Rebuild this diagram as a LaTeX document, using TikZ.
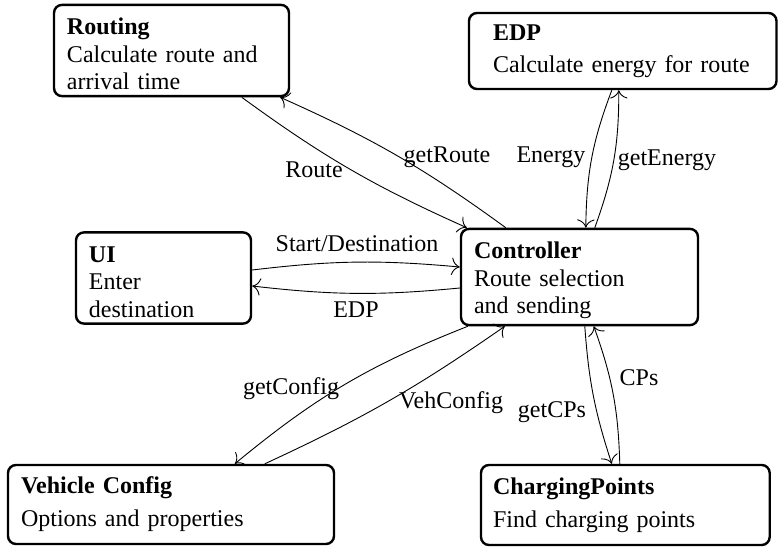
\documentclass[tikz,border=0pt]{standalone}
\usepackage{fontspec}
\setmainfont{Liberation Serif}
\usepackage{tikz}
\usetikzlibrary{arrows, arrows.meta, positioning}
\tikzset{module/.style = {draw, line width=1.2pt, rounded corners=4pt, align=left, inner ysep=3pt}}
\tikzset{msg/.style = {draw, -{To[scale=1.6]}, line width=0.45pt}}
\tikzset{lbl/.style = {inner sep=1pt}}
\newcommand{\modtitle}[1]{\rule{0pt}{12pt}\textbf{#1}}

\begin{document}
\begin{tikzpicture}[x=0.5pt, y=-0.5pt, font=\fontsize{12}{13.75}\selectfont]
			\useasboundingbox (0, 0) rectangle (778, 547);
			% modules
			\node [module, inner xsep=6.5pt, text width=104.5pt, minimum width=117.5pt, minimum height=45.5pt] (routing) at (171.5, 50.5)
				{\modtitle{Routing}\\Calculate route and\\arrival time};
			\node [module, inner xsep=12pt, text width=129.75pt, minimum width=153.75pt, minimum height=38pt] (edp) at (622.75, 51)
				{\textbf{EDP}\\[2.25pt]Calculate energy for route};
			\node [module, inner xsep=6.5pt, text width=74.5pt, minimum width=87.5pt, minimum height=45pt] (ui) at (163.5, 278)
				{\modtitle{UI}\\Enter\\destination};
			\node [module, inner xsep=6.5pt, text width=105.5pt, minimum width=118.5pt, minimum height=47pt] (ctrl) at (579.5, 277)
				{\modtitle{Controller}\\Route selection\\and sending};
			\node [module, inner xsep=6.5pt, text width=150pt, minimum width=163pt, minimum height=39.5pt] (vc) at (171, 504.5)
				{\textbf{Vehicle Config}\\[2.75pt]Options and properties};
			\node [module, inner xsep=6pt, text width=132.35pt, minimum width=144.35pt, minimum height=40pt] (cp) at (625.35, 505)
				{\textbf{ChargingPoints}\\[2.75pt]Find charging points};

			% messages
			\path [msg] ([xshift=94.5pt]routing.south west) to [bend right=6] ([xshift=3.5pt]ctrl.north west);
			\path [msg] ([xshift=23pt]ctrl.north west) to [bend right=6] ([xshift=-5pt]routing.south east);
			\path [msg] ([xshift=72pt]edp.south west) to [bend right=10] ([xshift=63pt]ctrl.north west);
			\path [msg] ([xshift=67.5pt]ctrl.north west) to [bend right=10] ([xshift=75.5pt]edp.south west);
			\path [msg] ([yshift=4pt]ui.east) to [bend left=6] ([yshift=5pt]ctrl.west);
			\path [msg] ([yshift=-5.5pt]ctrl.west) to [bend left=6] ([yshift=-4pt]ui.east);
			\path [msg] ([xshift=4pt]ctrl.south west) to [bend right=9] ([xshift=114pt]vc.north west);
			\path [msg] ([xshift=129pt]vc.north west) to [bend right=5] ([xshift=22.5pt]ctrl.south west);
			\path [msg] ([xshift=62.5pt]ctrl.south west) to [bend right=7] ([xshift=66pt]cp.north west);
			\path [msg] ([xshift=70pt]cp.north west) to [bend right=9] ([xshift=67pt]ctrl.south west);

			% message labels
			\node [lbl] (lroute) at (314, 170) {Route};
			\node [lbl] (lgetroute) at (447, 157) {getRoute};
			\node [lbl] (lenergy) at (551, 157) {Energy};
			\node [lbl] (lgetenergy) at (667, 160) {getEnergy};
			\node [lbl] (lstart) at (357, 244) {Start/Destination};
			\node [lbl] (ledp) at (356, 310) {EDP};
			\node [lbl] (lgetconfig) at (291, 389) {getConfig};
			\node [lbl] (lvehconfig) at (451, 403) {VehConfig};
			\node [lbl] (lgetcps) at (552, 412) {getCPs};
			\node [lbl] (lcps) at (639, 378) {CPs};
		\end{tikzpicture}
\end{document}
